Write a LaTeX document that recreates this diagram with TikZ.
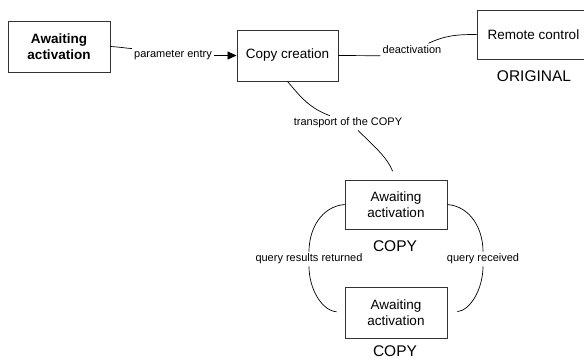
\documentclass[tikz,border=0pt]{standalone}
\usepackage{fontspec}
\setmainfont{Liberation Sans}
\usetikzlibrary{arrows.meta}
\begin{document}
\begin{tikzpicture}[x=1pt,y=-1pt,
  box/.style={draw=black!80, line width=0.9pt, align=center,
    font=\fontsize{13.5}{15.5}\selectfont, inner sep=0pt},
  lbl/.style={font=\fontsize{11}{12}\selectfont, inner sep=2pt},
  big/.style={font=\fontsize{15.5}{18}\selectfont, inner sep=0pt},
  conn/.style={draw=black, line width=0.7pt}]
\clip (0,0) rectangle (584,359);
% boxes
\node[box, minimum width=102pt, minimum height=51pt, font=\fontsize{13.5}{15.5}\selectfont\bfseries] (b1) at (59,46.5) {Awaiting\\activation};
\node[box, minimum width=101pt, minimum height=51pt] (b2) at (287.5,55.5) {Copy creation};
\node[box, minimum width=113pt, minimum height=49pt] (rc) at (533.5,34.5) {Remote control};
\node[box, minimum width=102pt, minimum height=49pt] (b3) at (396,204.5) {Awaiting\\activation};
\node[box, minimum width=102pt, minimum height=51pt] (b4) at (396,312.5) {Awaiting\\activation};
% captions
\node[big] (orig) at (534,76.5) {ORIGINAL};
\node[big] (c1) at (395,246) {COPY};
\node[big] (c2) at (395,351) {COPY};
% labels
\node[lbl] (pe) at (173,55.5) {parameter entry};
\node[lbl] (de) at (412,49.5) {deactivation};
\node[lbl] (tr) at (348,123) {transport of the COPY};
\node[lbl] (qr) at (309,259) {query results returned};
\node[lbl] (qv) at (483,259) {query received};
% connectors
\draw[conn] (b1.east) to[out=-3,in=175] (pe.north west);
\draw[conn,-{Triangle[length=9pt,width=8pt]}] (pe.east) -- (b2.west);
\draw[conn] (b2.east) -- (de.south west);
\draw[conn] ([xshift=-15pt]de.north east) to[out=25,in=180] (rc.west);
\draw[conn] (b2.south) to[out=-50,in=160] ([xshift=-18pt]tr.north);
\draw[conn,shorten >=9pt] ([xshift=10pt]tr.south) to[out=-45,in=112] (b3.north);
\draw[conn] (b3.west) to[out=185,in=90] (qr.north);
\draw[conn,shorten >=8pt] (qr.south) to[out=-90,in=175] (b4.west);
\draw[conn] (b3.east) to[out=-5,in=90] (qv.north);
\draw[conn,shorten >=10pt] (qv.south) to[out=-90,in=5] (b4.east);
\end{tikzpicture}
\end{document}
